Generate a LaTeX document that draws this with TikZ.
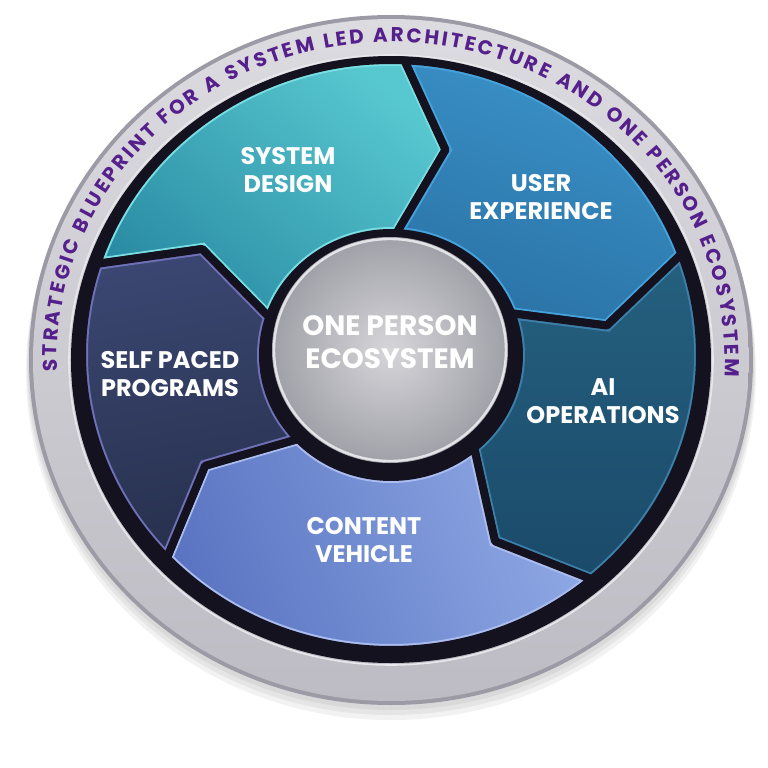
\documentclass[tikz,border=0pt]{standalone}
\usepackage{fontspec}
\setmainfont{Poppins}
\usepackage{tikz}
\usetikzlibrary{decorations.text}
\definecolor{ringRim}{HTML}{9C9AA4}
\definecolor{ringLight}{HTML}{DCDBE0}
\definecolor{ringMid}{HTML}{BDBBC3}
\definecolor{ringGlint}{HTML}{E8E8EC}
\definecolor{ringInk}{HTML}{56208C}
\definecolor{bandDark}{HTML}{14121E}
\definecolor{sdTop}{HTML}{58C8D0}\definecolor{sdBot}{HTML}{2A8CA4}\definecolor{sdEdge}{HTML}{78DEE3}
\definecolor{uxTop}{HTML}{3A92C8}\definecolor{uxBot}{HTML}{2A72A6}\definecolor{uxEdge}{HTML}{45A2DC}
\definecolor{aiTop}{HTML}{25607F}\definecolor{aiBot}{HTML}{1B4A6A}\definecolor{aiEdge}{HTML}{3C80AA}
\definecolor{cvTop}{HTML}{8EA8E4}\definecolor{cvBot}{HTML}{5A74C2}\definecolor{cvEdge}{HTML}{AABCF0}
\definecolor{spTop}{HTML}{3B4772}\definecolor{spBot}{HTML}{27304D}\definecolor{spEdge}{HTML}{6E70B8}
\definecolor{discLight}{HTML}{D6D6DA}
\definecolor{discDark}{HTML}{A0A0A8}
\definecolor{discRim}{HTML}{E4E4E8}
% chevron segment between two boundary angles
\newcommand{\segshape}[2]{(#1:309 and 295) arc[start angle=#1, end angle=#2, x radius=309, y radius=295]
  -- ({#2-12}:218 and 212) -- (#2:128 and 122) arc[start angle=#2, end angle=#1, x radius=128, y radius=122]
  -- ({#1-12}:218 and 212) -- cycle}
\newcommand{\ringfont}{\bfseries\fontsize{10}{12}\selectfont}

\begin{document}
\begin{tikzpicture}[x=0.5pt, y=0.5pt,
  lbl/.style={text=white, align=center, font=\bfseries\fontsize{12}{14}\selectfont},
  corelbl/.style={text=white, align=center, font=\bfseries\fontsize{14}{16.5}\selectfont}]
  \useasboundingbox[fill=white] (-391,-413) rectangle (377,355);
  % shadow and silver ring
  \foreach \k in {1,2,3} {\fill[black, opacity=0.05] (0,{-5-4*\k}) ellipse[x radius={362+\k}, y radius={345+\k}];}
  \fill[ringRim] (0,-5) ellipse[x radius=362, y radius=345];
  \shade[top color=ringLight, bottom color=ringMid] (0,-5) ellipse[x radius=358, y radius=341];
  \draw[ringGlint, line width=0.8pt] (0,-5) ellipse[x radius=322, y radius=305];
  \fill[bandDark] (0,-5) ellipse[x radius=320, y radius=303];
  \begin{scope}[shift={(0,-5)}]
    \path[decorate, decoration={text along path, text color=ringInk, text align=fit to path,
      text={|\ringfont|STRATEGIC BLUEPRINT FOR A SYSTEM LED ARCHITECTURE AND ONE PERSON ECOSYSTEM}}]
      (182:334 and 318) arc[start angle=182, end angle=-3, x radius=334, y radius=318];
  \end{scope}
  % segments
  \foreach \seg/\a/\b/\ang in {sd/162/87.5/-40, ux/87.5/20/-20, ai/20/-49.5/0, cv/-49.5/-136.5/-70, sp/223.5/162/10} {
    \shade[top color=\seg Top, bottom color=\seg Bot, shading angle=\ang] \segshape{\a}{\b};
    \begin{scope}
      \clip \segshape{\a}{\b};
      \draw[\seg Edge, line width=6pt] \segshape{\a}{\b};
    \end{scope}
    \draw[bandDark, line width=4pt, line join=round] \segshape{\a}{\b};
  }
  % hub
  \shade[inner color=discLight, outer color=discDark] (-1,5) ellipse[x radius=118, y radius=113];
  \draw[discRim, line width=1.2pt] (-1,5) ellipse[x radius=116, y radius=111];
  \node[corelbl] (core) at (-1,13) {ONE PERSON\\ECOSYSTEM};
  \node[lbl] (sd) at (-103,185) {SYSTEM\\DESIGN};
  \node[lbl] (ux) at (150,158) {USER\\EXPERIENCE};
  \node[lbl] (ai) at (212,-46) {AI\\OPERATIONS};
  \node[lbl] (cv) at (-27,-185) {CONTENT\\VEHICLE};
  \node[lbl] (sp) at (-221,-19) {SELF PACED\\PROGRAMS};
\end{tikzpicture}
\end{document}
